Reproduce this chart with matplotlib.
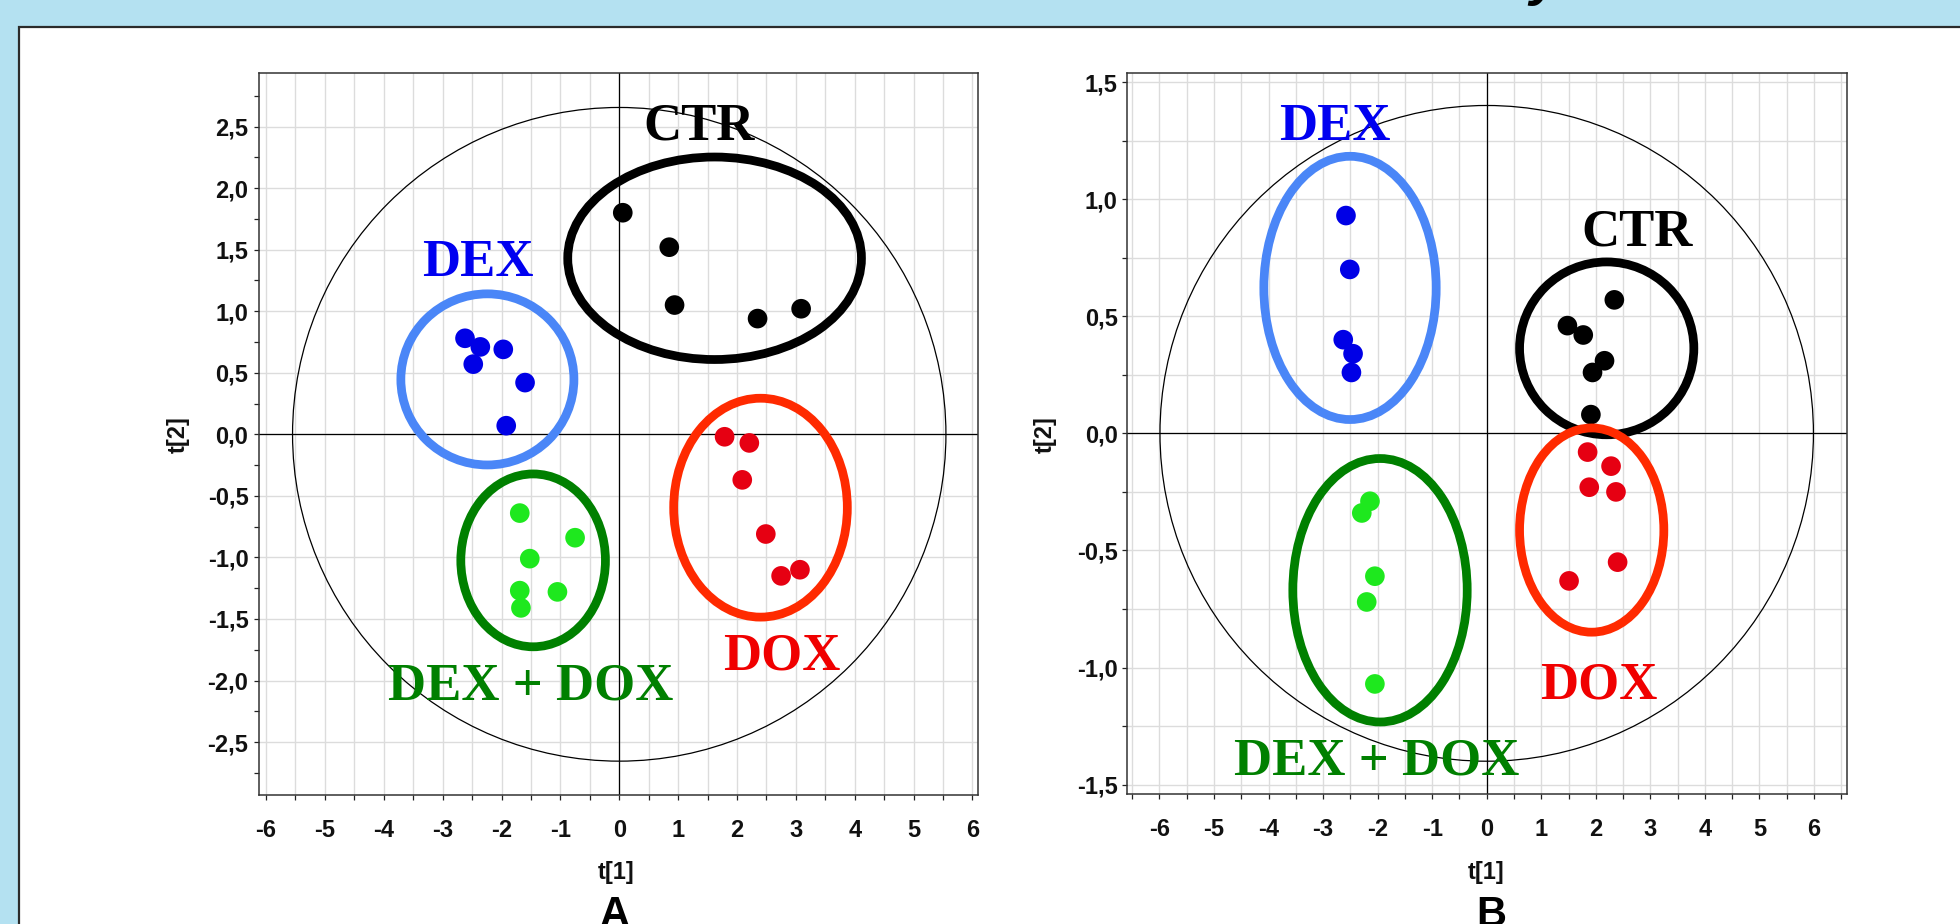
import numpy as np
import matplotlib.pyplot as plt
from matplotlib.patches import Ellipse, Rectangle
from matplotlib.ticker import MultipleLocator, FuncFormatter

plt.rcParams['font.family'] = ['Liberation Sans', 'DejaVu Sans']

""" Scores read off panel A (t[1], t[2]) """
a_ctr_t1 = [0.06, 0.85, 0.94, 2.35, 3.09]
a_ctr_t2 = [1.80, 1.52, 1.05, 0.94, 1.02]
a_dex_t1 = [-2.62, -2.36, -2.48, -1.97, -1.60, -1.92]
a_dex_t2 = [0.78, 0.71, 0.57, 0.69, 0.42, 0.07]
a_dexdox_t1 = [-1.69, -0.75, -1.52, -1.69, -1.05, -1.67]
a_dexdox_t2 = [-0.64, -0.84, -1.01, -1.27, -1.28, -1.41]
a_dox_t1 = [1.79, 2.21, 2.09, 2.49, 2.75, 3.07]
a_dox_t2 = [-0.02, -0.07, -0.37, -0.81, -1.15, -1.10]

""" Scores read off panel B (t[1], t[2]) """
b_ctr_t1 = [2.34, 1.48, 1.77, 2.16, 1.94, 1.91]
b_ctr_t2 = [0.57, 0.46, 0.42, 0.31, 0.26, 0.08]
b_dex_t1 = [-2.58, -2.51, -2.63, -2.45, -2.48]
b_dex_t2 = [0.93, 0.70, 0.40, 0.34, 0.26]
b_dexdox_t1 = [-2.14, -2.29, -2.05, -2.20, -2.05]
b_dexdox_t2 = [-0.29, -0.34, -0.61, -0.72, -1.07]
b_dox_t1 = [1.85, 2.28, 1.88, 2.37, 2.40, 1.51]
b_dox_t2 = [-0.08, -0.14, -0.23, -0.25, -0.55, -0.63]

""" Hotelling T2 ellipse semi-axes """
a_t2_limit = [5.55, 2.655]
b_t2_limit = [5.99, 1.40]

""" Group names """
group_names = ['CTR', 'DEX', 'DEX + DOX', 'DOX']

""" Styles """
dot_colors = {'CTR': '#000000', 'DEX': '#0000e6', 'DEX + DOX': '#1ee81e', 'DOX': '#e60012'}
ring_colors = {'CTR': '#000000', 'DEX': '#4a86f7', 'DEX + DOX': '#008000', 'DOX': '#ff2a00'}
text_colors = {'CTR': '#000000', 'DEX': '#0000f0', 'DEX + DOX': '#008000', 'DOX': '#f00000'}

""" Hand drawn rings (center x, center y, width, height) and label anchors """
a_rings = {'CTR': (1.62, 1.43, 4.99, 1.645), 'DEX': (-2.24, 0.446, 2.94, 1.39),
           'DEX + DOX': (-1.463, -1.024, 2.457, 1.404), 'DOX': (2.40, -0.596, 2.95, 1.778)}
a_labels = {'CTR': (1.354, 2.392), 'DEX': (-2.405, 1.287),
            'DEX + DOX': (-1.503, -2.151), 'DOX': (2.768, -1.907)}
b_rings = {'CTR': (2.20, 0.363, 3.195, 0.738), 'DEX': (-2.506, 0.621, 3.16, 1.124),
           'DEX + DOX': (-1.956, -0.670, 3.197, 1.125), 'DOX': (1.925, -0.413, 2.645, 0.872)}
b_labels = {'CTR': (2.756, 0.801), 'DEX': (-2.792, 1.254),
            'DEX + DOX': (-2.015, -1.458), 'DOX': (2.059, -1.134)}

W, H = 1960, 924
fig = plt.figure(figsize=(W / 100, H / 100), dpi=100, facecolor='#b4e1f1')

""" White panel with dark edge """
fig.add_artist(Rectangle((19 / W, -0.05), 1.0, (H - 27) / H + 0.05, transform=fig.transFigure,
                         facecolor='white', edgecolor='#2b2b2b', lw=1.6, zorder=0))
""" Descender of the cut-off title """
fig.text(1545 / W, 1 - 6 / H, 'y', fontsize=40, fontstyle='italic', fontweight='bold',
         ha='center', va='bottom', color='black')


def comma_fmt(v, pos):
    return ('%.1f' % v).replace('.', ',')


def int_fmt(v, pos):
    return '%d' % round(v)


def draw_panel(rect, xlim, ylim, yminor_grid, ylabel_pad, groups, t2_limit, rings, labels):
    ax = fig.add_axes(rect)
    ax.set_facecolor('white')
    ax.set_xlim(xlim)
    ax.set_ylim(ylim)

    ax.xaxis.set_major_locator(MultipleLocator(1))
    ax.xaxis.set_minor_locator(MultipleLocator(0.5))
    ax.yaxis.set_major_locator(MultipleLocator(0.5))
    ax.yaxis.set_minor_locator(MultipleLocator(0.25))
    ax.xaxis.set_major_formatter(FuncFormatter(int_fmt))
    ax.yaxis.set_major_formatter(FuncFormatter(comma_fmt))
    ax.tick_params(which='both', direction='out', length=3.6, width=0.9, color='#222222')
    ax.tick_params(axis='x', which='major', pad=14, labelsize=17, labelcolor='#111111')
    ax.tick_params(axis='y', which='major', pad=ylabel_pad, labelsize=17, labelcolor='#111111')
    for lab in ax.get_xticklabels() + ax.get_yticklabels():
        lab.set_fontweight('bold')

    ax.grid(True, axis='x', which='both', color='#dcdcdc', lw=1.0)
    ax.grid(True, axis='y', which='major', color='#dcdcdc', lw=1.0)
    if yminor_grid:
        ax.grid(True, axis='y', which='minor', color='#dcdcdc', lw=1.0)
    ax.set_axisbelow(True)
    for s in ax.spines.values():
        s.set_color('#333333')
        s.set_linewidth(1.1)

    ax.axhline(0, color='black', lw=0.9, zorder=1)
    ax.axvline(0, color='black', lw=0.9, zorder=1)
    ax.add_patch(Ellipse((0, 0), 2 * t2_limit[0], 2 * t2_limit[1], fill=False,
                         edgecolor='black', lw=0.9, zorder=1))

    for name in group_names:
        t1, t2 = groups[name]
        ax.scatter(t1, t2, s=200, color=dot_colors[name], edgecolors='none', zorder=3)
        cx, cy, w, h = rings[name]
        ax.add_patch(Ellipse((cx, cy), w, h, fill=False, edgecolor=ring_colors[name],
                             lw=6.3, zorder=4))
        lx, ly = labels[name]
        ax.text(lx, ly, name, color=text_colors[name], fontsize=38, fontweight='bold',
                family=['Liberation Serif', 'DejaVu Serif'], ha='center', va='baseline', zorder=5)
    return ax


groups_a = {'CTR': (a_ctr_t1, a_ctr_t2), 'DEX': (a_dex_t1, a_dex_t2),
            'DEX + DOX': (a_dexdox_t1, a_dexdox_t2), 'DOX': (a_dox_t1, a_dox_t2)}
groups_b = {'CTR': (b_ctr_t1, b_ctr_t2), 'DEX': (b_dex_t1, b_dex_t2),
            'DEX + DOX': (b_dexdox_t1, b_dexdox_t2), 'DOX': (b_dox_t1, b_dox_t2)}

axA = draw_panel([259 / W, (H - 795) / H, (978.3 - 259) / W, (795 - 73) / H],
                 (-6.12, 6.10), (-2.93, 2.935), False, 4, groups_a, a_t2_limit, a_rings, a_labels)
axB = draw_panel([1126.7 / W, (H - 794) / H, 720 / W, (794 - 72.7) / H],
                 (-6.6, 6.6), (-1.54, 1.54), True, 3, groups_b, b_t2_limit, b_rings, b_labels)

""" Axis titles and panel letters """
for x_t2, x_t1, letter, x_letter in [(178, 616, 'A', 615), (1045, 1486, 'B', 1491)]:
    fig.text(x_t2 / W, (H - 435) / H, 't[2]', rotation=90, fontsize=17, fontweight='bold',
             ha='center', va='center', color='#111111')
    fig.text(x_t1 / W, (H - 873) / H, 't[1]', fontsize=17, fontweight='bold',
             ha='center', va='center', color='#111111')
    fig.text(x_letter / W, -2 / H, letter, fontsize=30, fontweight='bold',
             ha='center', va='baseline', color='black')

fig.savefig('out.png', dpi=100, facecolor=fig.get_facecolor())
